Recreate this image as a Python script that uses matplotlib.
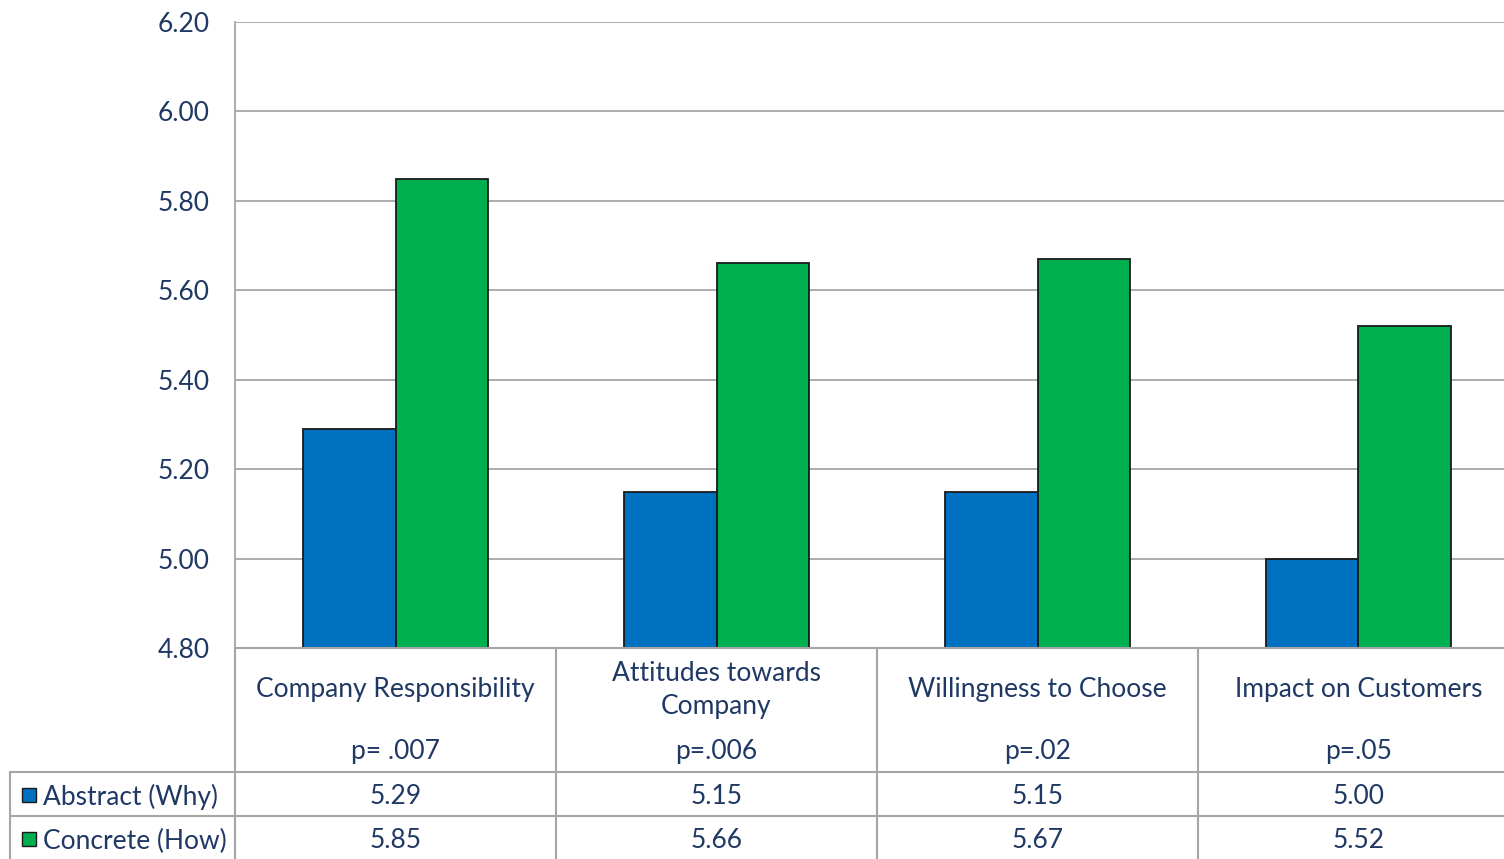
import matplotlib
matplotlib.use("Agg")
import matplotlib.pyplot as plt
from matplotlib.patches import Rectangle
from matplotlib.lines import Line2D
import numpy as np

categories = ["Company Responsibility", "Attitudes towards\nCompany", "Willingness to Choose", "Impact on Customers"]
p_values = ["p= .007", "p=.006", "p=.02", "p=.05"]
series_names = ["Abstract (Why)", "Concrete (How)"]
abstract = [5.29, 5.15, 5.15, 5.00]
concrete = [5.85, 5.66, 5.67, 5.52]
colors = ["#0070C0", "#00B050"]
yticks = [4.80, 5.00, 5.20, 5.40, 5.60, 5.80, 6.00, 6.20]

plt.rcParams['font.family'] = ['Lato', 'DejaVu Sans']
TXT = "#1F3864"
GRID = "#A6A6A6"
FS = 19

W, H = 1504, 859
fig = plt.figure(figsize=(W / 100, H / 100), dpi=100)

def fx(px):
    return px / W

def fy(py):
    return 1 - py / H

ax_left, ax_right, ax_top, ax_bot = 235, 1519, 22, 648
ax = fig.add_axes([fx(ax_left), fy(ax_bot), fx(ax_right - ax_left), (ax_bot - ax_top) / H])

x = np.arange(len(categories))
bw = 0.287
ax.bar(x - bw / 2, [v - 4.8 for v in abstract], bw, bottom=4.8, color=colors[0], edgecolor="#1a1a1a", linewidth=1.3, zorder=3)
ax.bar(x + bw / 2, [v - 4.8 for v in concrete], bw, bottom=4.8, color=colors[1], edgecolor="#1a1a1a", linewidth=1.3, zorder=3)

ax.set_xlim(-0.5, len(categories) - 0.5)
ax.set_ylim(4.8, 6.2)
ax.set_yticks(yticks)
ax.set_yticklabels([f"{v:.2f}" for v in yticks], color=TXT, fontsize=FS)
ax.tick_params(axis='y', length=0, pad=18)
ax.set_xticks([])
ax.grid(axis='y', color=GRID, linewidth=1.3, zorder=0)
for s in ["top", "right", "bottom"]:
    ax.spines[s].set_visible(False)
ax.spines["left"].set_color(GRID)
ax.spines["left"].set_linewidth(1.3)

# Data table
col_w = (ax_right - ax_left) / len(categories)

def hline(y, x0, x1):
    fig.add_artist(Line2D([fx(x0), fx(x1)], [fy(y), fy(y)], color=GRID, linewidth=1.5))

def vline(xp, y0, y1):
    fig.add_artist(Line2D([fx(xp), fx(xp)], [fy(y0), fy(y1)], color=GRID, linewidth=1.5))

hline(648, ax_left, ax_right)
hline(772, 10, ax_right)
hline(816, 10, ax_right)
vline(10, 772, 859)
for i in range(len(categories) + 1):
    vline(ax_left + i * col_w, 648, 859)

for i, (cat, pv) in enumerate(zip(categories, p_values)):
    cx = ax_left + (i + 0.5) * col_w
    fig.text(fx(cx), fy(690), cat, ha="center", va="center", color=TXT, fontsize=FS, linespacing=1.42)
    fig.text(fx(cx), fy(752), pv, ha="center", va="center", color=TXT, fontsize=FS)
    fig.text(fx(cx), fy(797), f"{abstract[i]:.2f}", ha="center", va="center", color=TXT, fontsize=FS)
    fig.text(fx(cx), fy(841), f"{concrete[i]:.2f}", ha="center", va="center", color=TXT, fontsize=FS)

for j, (name, ry) in enumerate(zip(series_names, [795, 839])):
    fig.add_artist(Rectangle((fx(22), fy(ry + 7)), fx(14), 14 / H, facecolor=colors[j], edgecolor="#1a1a1a", linewidth=1.0))
    fig.text(fx(43), fy(ry + 2), name, ha="left", va="center", color=TXT, fontsize=FS)

fig.savefig("out.png", dpi=100)
